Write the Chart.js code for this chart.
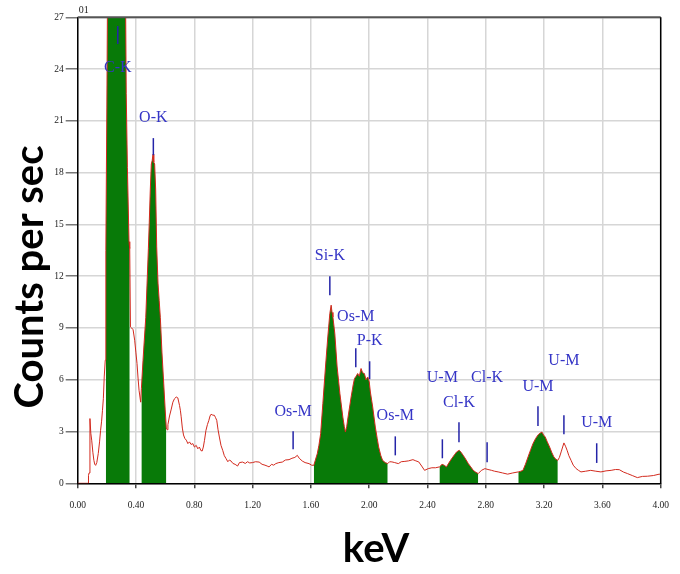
<!DOCTYPE html>
<html>
<head>
<meta charset="utf-8">
<script src="https://cdn.jsdelivr.net/npm/chart.js@4.4.0/dist/chart.umd.min.js"></script>
<style>
  html, body { margin: 0; padding: 0; background: #fff; }
  canvas { display: block; }
</style>
</head>
<body>
<canvas id="spectrum" width="680" height="574"></canvas>
<script>
// EDS spectrum: energy in keV, counts per sec
const energy = [
  0.000, 0.072, 0.074, 0.078, 0.084, 0.090, 0.096, 0.104, 0.111, 0.117, 0.123, 0.131, 0.141, 0.150, 0.157, 0.164, 0.170, 0.176, 0.182, 0.189,
  0.193, 0.200, 0.207, 0.240, 0.280, 0.310, 0.325, 0.333, 0.341, 0.352, 0.357, 0.362, 0.370, 0.380, 0.391, 0.399, 0.407, 0.414, 0.421, 0.432,
  0.437, 0.448, 0.457, 0.467, 0.476, 0.485, 0.491, 0.498, 0.505, 0.511, 0.517, 0.522, 0.528, 0.535, 0.542, 0.551, 0.559, 0.567, 0.578, 0.590,
  0.600, 0.608, 0.614, 0.619, 0.630, 0.642, 0.653, 0.664, 0.676, 0.687, 0.699, 0.705, 0.710, 0.718, 0.726, 0.735, 0.745, 0.756, 0.767, 0.778,
  0.790, 0.801, 0.813, 0.824, 0.835, 0.845, 0.854, 0.862, 0.870, 0.880, 0.890, 0.900, 0.908, 0.915, 0.927, 0.938, 0.946, 0.954, 0.963, 0.972,
  0.983, 0.995, 1.006, 1.018, 1.030, 1.041, 1.052, 1.065, 1.080, 1.097, 1.110, 1.131, 1.150, 1.165, 1.180, 1.200, 1.220, 1.245, 1.265, 1.285,
  1.300, 1.313, 1.330, 1.345, 1.359, 1.380, 1.404, 1.425, 1.450, 1.470, 1.490, 1.507, 1.520, 1.541, 1.560, 1.587, 1.605, 1.620, 1.630, 1.644,
  1.655, 1.667, 1.682, 1.700, 1.716, 1.730, 1.739, 1.745, 1.751, 1.764, 1.780, 1.799, 1.819, 1.829, 1.837, 1.846, 1.855, 1.876, 1.890, 1.899,
  1.910, 1.921, 1.932, 1.944, 1.955, 1.967, 1.978, 1.990, 2.000, 2.008, 2.024, 2.042, 2.055, 2.065, 2.080, 2.092, 2.110, 2.127, 2.140, 2.156,
  2.175, 2.200, 2.220, 2.245, 2.270, 2.300, 2.320, 2.340, 2.360, 2.380, 2.405, 2.430, 2.455, 2.482, 2.500, 2.516, 2.530, 2.548, 2.566, 2.585,
  2.600, 2.618, 2.630, 2.645, 2.662, 2.680, 2.697, 2.714, 2.730, 2.748, 2.770, 2.794, 2.815, 2.840, 2.860, 2.885, 2.915, 2.950, 2.985, 3.023,
  3.040, 3.055, 3.072, 3.090, 3.108, 3.124, 3.142, 3.160, 3.172, 3.185, 3.196, 3.208, 3.222, 3.238, 3.252, 3.267, 3.280, 3.294, 3.305, 3.317,
  3.336, 3.347, 3.358, 3.370, 3.385, 3.400, 3.420, 3.436, 3.453, 3.485, 3.520, 3.555, 3.590, 3.625, 3.660, 3.690, 3.716, 3.745, 3.773, 3.805,
  3.840, 3.875, 3.909, 3.950, 3.990, 4.000
];
const counts = [
  0, 0, 0.46, 0.6, 3.75, 2.9, 2.5, 1.8, 1.33, 1.1, 1.04, 1.2, 1.72, 2.4, 3.07, 3.6, 4.23, 4.9, 6.16, 7.13,
  13.5, 21.8, 32, 46, 52, 46, 32, 22.6, 18.3, 14.0, 13.6, 9.06, 9.0, 8.9, 8.29, 7.6, 6.94, 6.1, 5.39, 4.7,
  5.5, 7.1, 8.3, 9.6, 11.6, 13.6, 15.1, 17.0, 18.5, 18.7, 19.07, 18.6, 18.5, 17.0, 13.7, 11.6, 10.6, 9.6, 7.6, 5.8,
  4.3, 3.2, 3.1, 3.4, 3.9, 4.3, 4.7, 4.9, 5.0, 4.95, 4.5, 4.2, 3.85, 3.2, 2.8, 2.6, 2.5, 2.3, 2.4, 2.25,
  2.3, 2.1, 2.2, 2.0, 2.1, 1.9, 1.87, 2.1, 2.49, 3.07, 3.4, 3.65, 3.9, 4.0, 3.95, 3.94, 3.8, 3.65, 3.1, 2.68,
  2.2, 1.91, 1.6, 1.43, 1.25, 1.35, 1.29, 1.15, 1.1, 1.0, 1.2, 1.23, 1.15, 1.25, 1.18, 1.2, 1.25, 1.23, 1.1, 1.05,
  1.0, 0.95, 1.1, 1.05, 1.14, 1.2, 1.23, 1.35, 1.37, 1.45, 1.5, 1.62, 1.45, 1.29, 1.2, 1.14, 1.05, 1.04, 1.33, 1.72,
  2.2, 2.88, 4.62, 6.74, 8.48, 9.84, 10.32, 9.9, 9.64, 8.68, 6.74, 5.2, 3.84, 3.3, 2.97, 3.3, 3.84, 5.0, 5.7, 6.07,
  6.2, 6.36, 6.2, 6.65, 6.4, 6.36, 6.0, 6.16, 5.9, 5.29, 4.42, 3.26, 2.6, 2.1, 1.6, 1.33, 1.2, 1.14, 1.25, 1.24,
  1.2, 1.14, 1.25, 1.27, 1.3, 1.37, 1.3, 1.24, 1.0, 0.75, 0.85, 0.9, 0.9, 0.95, 1.1, 1.04, 0.95, 1.2, 1.43, 1.65,
  1.82, 1.91, 1.8, 1.62, 1.4, 1.14, 0.95, 0.75, 0.65, 0.56, 0.75, 0.85, 0.8, 0.75, 0.7, 0.66, 0.6, 0.53, 0.6, 0.66,
  0.7, 0.75, 1.1, 1.53, 1.95, 2.3, 2.6, 2.82, 2.9, 2.97, 2.8, 2.68, 2.4, 2.1, 1.8, 1.53, 1.4, 1.33, 1.5, 1.82,
  2.34, 2.15, 1.91, 1.6, 1.33, 1.05, 0.85, 0.75, 0.66, 0.7, 0.75, 0.7, 0.66, 0.72, 0.75, 0.8, 0.79, 0.65, 0.56, 0.45,
  0.33, 0.4, 0.41, 0.45, 0.53, 0.5
];

// shaded regions of interest (keV)
const roiStart = [0.193, 0.437, 1.620, 2.482, 3.023];
const roiEnd   = [0.357, 0.608, 2.127, 2.748, 3.294];

// peak identification labels
const peakNames   = ['C-K', 'O-K', 'Si-K', 'Os-M', 'P-K', 'Os-M', 'Os-M', 'U-M', 'Cl-K', 'Cl-K', 'U-M', 'U-M', 'U-M'];
const peakKeV     = [0.275, 0.519, 1.730, 1.908, 2.003, 1.478, 2.179, 2.502, 2.616, 2.809, 3.158, 3.336, 3.561];
const peakTextY   = [24.06, 21.16, 13.16, 9.62, 8.23, 4.17, 3.94, 6.14, 4.65, 6.14, 5.62, 7.09, 3.50];
const peakMarkTop = [26.5, 20.0, 12.0, 7.83, 7.07, 3.01, 2.72, 2.55, 3.54, 2.38, 4.46, 3.94, 2.32];
const peakMarkBot = [25.45, 19.01, 10.9, 6.72, 6.03, 1.97, 1.62, 1.45, 2.38, 1.22, 3.32, 2.84, 1.18];

// axis ranges
const xMin = 0, xMax = 4, xStep = 0.4;
const yMin = 0, yMax = 27, yStep = 3;

const points = energy.map((e, i) => ({ x: e, y: counts[i] }));

const roiSets = roiStart.map((a, r) => ({
    data: points.filter(p => p.x >= a && p.x <= roiEnd[r]),
    borderWidth: 0,
    backgroundColor: '#087a08',
    fill: 'origin',
    pointRadius: 0,
    tension: 0
}));

// peak labels, frame and axis titles
const decorations = {
    id: 'decorations',
    afterDatasetsDraw(chart) {
        const { ctx, chartArea, scales: { x, y } } = chart;
        ctx.save();

        // top and right frame
        ctx.lineWidth = 2;
        ctx.strokeStyle = '#555';
        ctx.beginPath();
        ctx.moveTo(chartArea.left, chartArea.top);
        ctx.lineTo(chartArea.right, chartArea.top);
        ctx.stroke();
        ctx.strokeStyle = '#000';
        ctx.lineWidth = 1.5;
        ctx.beginPath();
        ctx.moveTo(chartArea.right, chartArea.top);
        ctx.lineTo(chartArea.right, chartArea.bottom);
        ctx.stroke();

        // peak labels
        ctx.font = '16px "Liberation Serif"';
        ctx.textAlign = 'center';
        ctx.textBaseline = 'middle';
        ctx.fillStyle = '#3535c6';
        ctx.strokeStyle = '#2424a8';
        ctx.lineWidth = 1.5;
        peakNames.forEach((name, i) => {
            const px = x.getPixelForValue(peakKeV[i]);
            ctx.fillText(name, px, y.getPixelForValue(peakTextY[i]));
            ctx.beginPath();
            ctx.moveTo(px, y.getPixelForValue(peakMarkTop[i]));
            ctx.lineTo(px, y.getPixelForValue(peakMarkBot[i]));
            ctx.stroke();
        });

        // small corner label
        ctx.fillStyle = '#222';
        ctx.font = '10px "Liberation Serif"';
        ctx.textAlign = 'left';
        ctx.textBaseline = 'alphabetic';
        ctx.fillText('01', chartArea.left + 1, chartArea.top - 4);

        // axis titles
        ctx.fillStyle = '#000';
        ctx.font = 'bold 40px Lato';
        ctx.textAlign = 'center';
        ctx.fillText('keV', 376, 562);
        ctx.translate(43, 277);
        ctx.rotate(-Math.PI / 2);
        ctx.fillText('Counts per sec', 0, 0);
        ctx.restore();
    }
};

const tickFont = { family: '"Liberation Serif"', size: 9.5 };

new Chart(document.getElementById('spectrum'), {
    type: 'line',
    data: {
        datasets: [
            {
                data: points,
                borderColor: '#d22a1e',
                borderWidth: 1,
                pointRadius: 0,
                fill: false,
                tension: 0
            },
            ...roiSets
        ]
    },
    options: {
        responsive: false,
        animation: false,
        layout: { padding: { left: 0, top: 17.3, right: 16.7, bottom: 0 } },
        plugins: {
            legend: { display: false },
            tooltip: { enabled: false }
        },
        scales: {
            x: {
                type: 'linear',
                min: xMin,
                max: xMax,
                afterFit: s => { s.height = 90.7; },
                ticks: {
                    stepSize: xStep,
                    font: tickFont,
                    color: '#222',
                    padding: 11,
                    maxRotation: 0,
                    callback: v => v.toFixed(2)
                },
                grid: { color: '#d6d6d6', lineWidth: 1.5, tickLength: 5, tickColor: '#444' },
                border: { color: '#000', width: 1.5 }
            },
            y: {
                min: yMin,
                max: yMax,
                afterFit: s => { s.width = 77.7; },
                ticks: {
                    stepSize: yStep,
                    font: tickFont,
                    color: '#222',
                    padding: 2
                },
                grid: { color: '#d6d6d6', lineWidth: 1.5, tickLength: 12, tickColor: '#777' },
                border: { color: '#000', width: 1.5 }
            }
        }
    },
    plugins: [decorations]
});
</script>
</body>
</html>
